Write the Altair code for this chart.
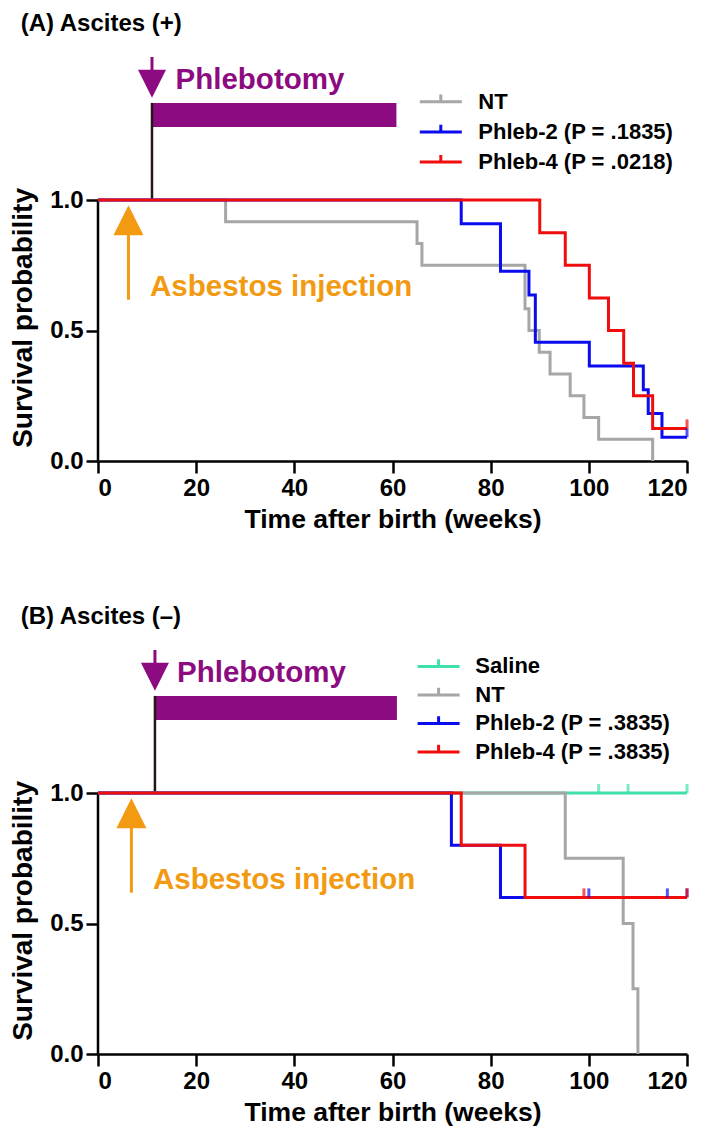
import altair as alt
import pandas as pd

FONT = "Liberation Sans"
W, H = 589, 411
PX_PER_UNIT = 261.0
YMAX = H / PX_PER_UNIT

X_TICKS = [0, 20, 40, 60, 80, 100, 120]
Y_TICKS = [0.0, 0.5, 1.0]

PURPLE = "#8C0B80"
ORANGE = "#F29A12"
DARK = "#231815"

# ---------------- Panel A: Ascites (+) ----------------
A_NAMES = ["NT", "Phleb-2 (P = .1835)", "Phleb-4 (P = .0218)"]
A_COLORS = ["#A6A6A6", "#0B0BF0", "#F00D0D"]

A_NT_T = [26.0, 65.0, 66.0, 87.0, 87.8, 89.9, 92.1, 96.2, 99.0, 102.0, 113.0]
A_NT_S = [0.917, 0.833, 0.750, 0.583, 0.500, 0.417, 0.333, 0.250, 0.167, 0.083, 0.0]
A_NT_C = []

A_P2_T = [74.0, 82.0, 87.8, 89.1, 100.1, 111.1, 112.1, 114.9]
A_P2_S = [0.909, 0.727, 0.636, 0.455, 0.364, 0.273, 0.182, 0.091]
A_P2_C = [120.0]

A_P4_T = [90.0, 95.2, 100.1, 104.0, 107.1, 109.1, 113.0]
A_P4_S = [0.875, 0.750, 0.625, 0.500, 0.375, 0.250, 0.125]
A_P4_C = [120.0]

# ---------------- Panel B: Ascites (-) ----------------
B_NAMES = ["Saline", "NT", "Phleb-2 (P = .3835)", "Phleb-4 (P = .3835)"]
B_COLORS = ["#40E0AE", "#A6A6A6", "#0B0BF0", "#F00D0D"]

B_SAL_T = []
B_SAL_S = []
B_SAL_C = [102.0, 108.0, 120.0]

B_NT_T = [95.2, 107.0, 109.0, 110.0]
B_NT_S = [0.75, 0.50, 0.25, 0.0]
B_NT_C = []

B_P2_T = [72.0, 82.0]
B_P2_S = [0.8, 0.6]
B_P2_C = [100.0, 116.0, 120.0]

B_P4_T = [74.0, 87.0]
B_P4_S = [0.8, 0.6]
B_P4_C = [99.0, 120.0]

A_SERIES = [
    (A_NAMES[0], A_NT_T, A_NT_S, A_NT_C),
    (A_NAMES[1], A_P2_T, A_P2_S, A_P2_C),
    (A_NAMES[2], A_P4_T, A_P4_S, A_P4_C),
]
B_SERIES = [
    (B_NAMES[0], B_SAL_T, B_SAL_S, B_SAL_C),
    (B_NAMES[1], B_NT_T, B_NT_S, B_NT_C),
    (B_NAMES[2], B_P2_T, B_P2_S, B_P2_C),
    (B_NAMES[3], B_P4_T, B_P4_S, B_P4_C),
]

# annotation anchors (data units: weeks / survival units)
A_ANN = dict(ph_x=11.0, bar_end=60.8, bar_lo=1.28, bar_hi=1.372, arr_top=1.548,
             arr_head=1.445, ph_tx=15.8, ph_ty=1.46, as_x=6.2, as_head=0.9225,
             as_bot=0.618, as_tx=10.6, as_ty=0.667)
B_ANN = dict(ph_x=11.6, bar_end=60.9, bar_lo=1.28, bar_hi=1.372, arr_top=1.548,
             arr_head=1.445, ph_tx=16.1, ph_ty=1.46, as_x=6.8, as_head=0.9225,
             as_bot=0.618, as_tx=11.2, as_ty=0.667)


def km_points(name, times, surv, cens):
    rows = [{"t": 0.0, "s": 1.0, "g": name}]
    for t, s in zip(times, surv):
        rows.append({"t": t, "s": s, "g": name})
    last_t = times[-1] if times else 0.0
    last_s = surv[-1] if surv else 1.0
    if cens and max(cens) > last_t:
        rows.append({"t": max(cens), "s": last_s, "g": name})
    return pd.DataFrame(rows)


def km_censor(name, times, surv, cens):
    rows = []
    for c in cens:
        s = 1.0
        for t, v in zip(times, surv):
            if t <= c:
                s = v
        rows.append({"t": c, "s": s, "g": name})
    return pd.DataFrame(rows, columns=["t", "s", "g"])


def panel(title, names, colors, series, ann, leg_x, leg_y, row_pad, lab_off):
    xs = alt.Scale(domain=[0, 120], nice=False, zero=False)
    ys = alt.Scale(domain=[0, YMAX], nice=False)
    xax = alt.Axis(values=X_TICKS, format="d", title="Time after birth (weeks)")
    yax = alt.Axis(values=Y_TICKS, format=".1f", title="Survival probability",
                   domain=False, titleY=(YMAX - 0.55) * PX_PER_UNIT)

    def X(f):
        return alt.X(f"{f}:Q", scale=xs, axis=xax)

    def Y(f):
        return alt.Y(f"{f}:Q", scale=ys, axis=yax)

    cscale = alt.Scale(domain=names, range=colors)
    legend = alt.Legend(
        orient="none", legendX=leg_x, legendY=leg_y, title=None, padding=0,
        symbolType="M-2.625,0L2.625,0M0,0L0,-0.9", symbolSize=256,
        symbolStrokeWidth=3, symbolFillColor="transparent",
        labelFont=FONT, labelFontSize=22, labelFontWeight="bold", labelColor="black",
        labelOffset=lab_off, labelLimit=0, rowPadding=row_pad,
    )

    layers = []
    # phlebotomy bar
    bar = pd.DataFrame({"x0": [ann["ph_x"]], "x1": [ann["bar_end"]],
                        "y0": [ann["bar_lo"]], "y1": [ann["bar_hi"]]})
    layers.append(alt.Chart(bar).mark_rect(color=PURPLE).encode(
        x=X("x0"), x2="x1", y=Y("y0"), y2="y1"))
    # vertical start line
    vline = pd.DataFrame({"x": [ann["ph_x"]], "y0": [1.0], "y1": [ann["bar_hi"]]})
    layers.append(alt.Chart(vline).mark_rule(color=DARK, strokeWidth=2.5).encode(
        x=X("x"), y=Y("y0"), y2="y1"))
    # purple arrow
    parr = pd.DataFrame({"x": [ann["ph_x"]], "y0": [ann["arr_head"]], "y1": [ann["arr_top"]]})
    layers.append(alt.Chart(parr).mark_rule(color=PURPLE, strokeWidth=3).encode(
        x=X("x"), y=Y("y0"), y2="y1"))
    layers.append(alt.Chart(parr).mark_point(
        shape="M-1,-1L1,-1L0,1Z", filled=True, size=784, color=PURPLE, opacity=1,
        strokeWidth=0).encode(x=X("x"), y=Y("y0")))
    ptxt = pd.DataFrame({"x": [ann["ph_tx"]], "y": [ann["ph_ty"]], "label": ["Phlebotomy"]})
    layers.append(alt.Chart(ptxt).mark_text(
        align="left", baseline="middle", font=FONT, fontSize=29.5, fontWeight="bold",
        color=PURPLE).encode(x=X("x"), y=Y("y"), text="label:N"))
    # asbestos arrow
    oarr = pd.DataFrame({"x": [ann["as_x"]], "y0": [ann["as_bot"]], "y1": [ann["as_head"]]})
    layers.append(alt.Chart(oarr).mark_rule(color=ORANGE, strokeWidth=3).encode(
        x=X("x"), y=Y("y0"), y2="y1"))
    layers.append(alt.Chart(oarr).mark_point(
        shape="M0,-1L1,1L-1,1Z", filled=True, size=900, color=ORANGE, opacity=1,
        strokeWidth=0).encode(x=X("x"), y=Y("y1")))
    otxt = pd.DataFrame({"x": [ann["as_tx"]], "y": [ann["as_ty"]], "label": ["Asbestos injection"]})
    layers.append(alt.Chart(otxt).mark_text(
        align="left", baseline="middle", font=FONT, fontSize=29.5, fontWeight="bold",
        color=ORANGE).encode(x=X("x"), y=Y("y"), text="label:N"))
    # y axis line (0 to 1 only)
    yl = pd.DataFrame({"y0": [Y_TICKS[0]], "y1": [Y_TICKS[-1]]})
    layers.append(alt.Chart(yl).mark_rule(color="black", strokeWidth=2.5).encode(
        x=alt.value(0), y=Y("y0"), y2="y1"))

    # survival curves (drawn in legend order, later on top)
    for name, t, s, c in series:
        df = km_points(name, t, s, c)
        layers.append(alt.Chart(df).mark_line(
            interpolate="step-after", strokeWidth=3).encode(
            x=X("t"), y=Y("s"),
            color=alt.Color("g:N", scale=cscale, legend=legend)))
    for name, t, s, c in series:
        cdf = km_censor(name, t, s, c)
        if len(cdf):
            layers.append(alt.Chart(cdf).mark_tick(
                orient="vertical", size=9, thickness=3, yOffset=-4.5).encode(
                x=X("t"), y=Y("s"),
                color=alt.Color("g:N", scale=cscale, legend=None)))

    return alt.layer(*layers).properties(
        width=W, height=H,
        title=alt.TitleParams(title, anchor="start", frame="bounds", font=FONT,
                              fontSize=24, fontWeight="bold", color="black",
                              dx=11, offset=14),
    )


pA = panel("(A)  Ascites (+)", A_NAMES, A_COLORS, A_SERIES, A_ANN,
           leg_x=331.8, leg_y=40.7, row_pad=5.2, lab_off=26.5)
pB = panel("(B)  Ascites (–)", B_NAMES, B_COLORS, B_SERIES, B_ANN,
           leg_x=329.6, leg_y=12.4, row_pad=3.5, lab_off=25.7)

chart = alt.vconcat(pA, pB, spacing=72).resolve_scale(
    color="independent").resolve_legend(color="independent").properties(
    padding={"left": 1, "top": 4, "right": 0, "bottom": 0}
).configure_view(stroke=None).configure_axis(
    grid=False, domainColor="black", domainWidth=2.5, tickColor="black",
    tickWidth=2.5, tickSize=12, labelFont=FONT, labelFontSize=24,
    labelFontWeight="bold", labelColor="black",
    titleFont=FONT, titleFontWeight="bold", titleColor="black",
).configure_axisX(titlePadding=6, labelPadding=3, titleFontSize=26.5
).configure_axisY(titlePadding=12, labelPadding=3, titleFontSize=28)

chart.save("out.html", embed_options={"renderer": "svg", "actions": False})
